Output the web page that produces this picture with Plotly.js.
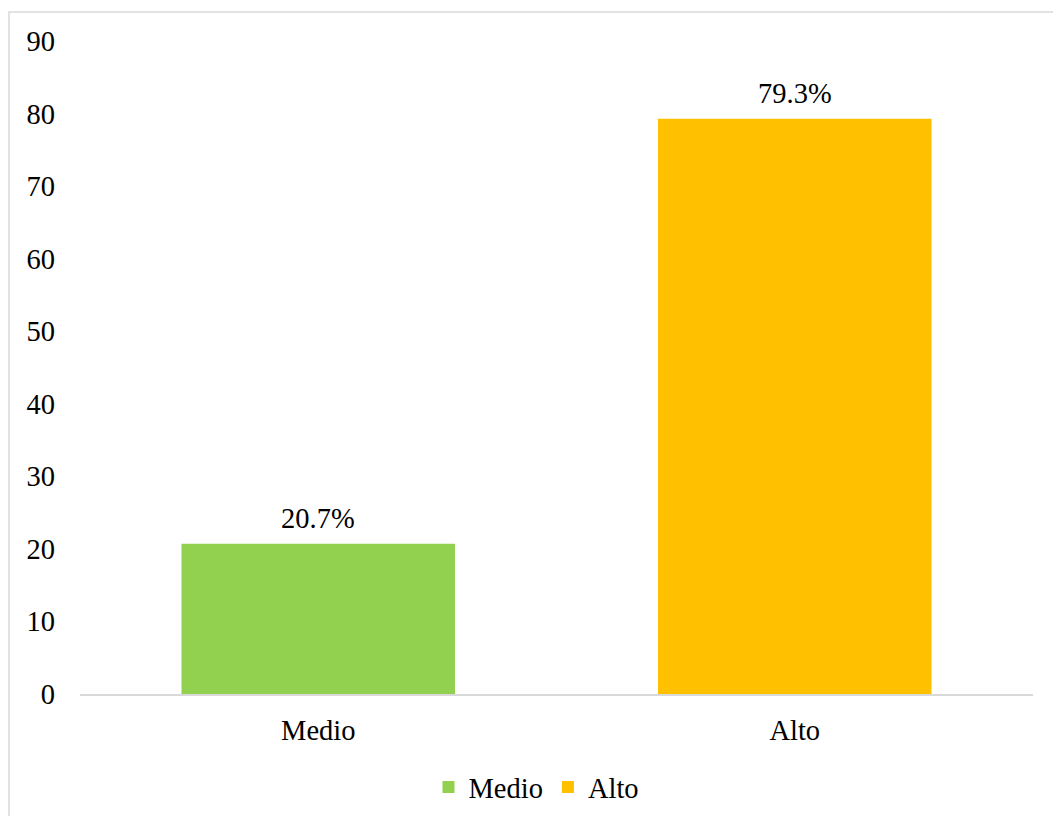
<!DOCTYPE html>
<html>
<head>
<meta charset="utf-8">
<script src="https://cdn.plot.ly/plotly-3.0.1.min.js"></script>
<style>
  html, body { margin: 0; padding: 0; background: #ffffff; }
  #chart { width: 1053px; height: 816px; }
</style>
</head>
<body>
<div id="chart"></div>
<script>
const categories = ["Medio", "Alto"];
const values = [20.7, 79.3];
const colors = ["#92D050", "#FFC000"];
const yTicks = [0, 10, 20, 30, 40, 50, 60, 70, 80, 90];

const fontFamily = "'Liberation Serif', 'Times New Roman', serif";
const fs = 28.5;

const traces = categories.map((c, i) => ({
  type: "bar",
  name: c,
  x: [c],
  y: [values[i]],
  width: 0.574,
  marker: { color: colors[i] },
  hoverinfo: "skip"
}));

const annotations = categories.map((c, i) => ({
  x: c,
  y: values[i],
  xref: "x",
  yref: "y",
  text: values[i].toFixed(1) + "%",
  showarrow: false,
  yanchor: "bottom",
  yshift: 8,
  font: { family: fontFamily, size: fs, color: "#000000" }
}));

const layout = {
  width: 1053,
  height: 816,
  margin: { l: 80, r: 20, t: 41, b: 122, autoexpand: false },
  paper_bgcolor: "#ffffff",
  plot_bgcolor: "#ffffff",
  font: { family: fontFamily, size: fs, color: "#000000" },
  barmode: "overlay",
  showlegend: true,
  legend: {
    orientation: "h",
    x: 0.479,
    xanchor: "center",
    yref: "container",
    y: 0.035,
    yanchor: "middle",
    font: { family: fontFamily, size: fs, color: "#000000" },
    itemwidth: 30,
    traceorder: "normal"
  },
  xaxis: {
    type: "category",
    categoryorder: "array",
    categoryarray: categories,
    showgrid: false,
    zeroline: false,
    showline: true,
    linecolor: "#d9d9d9",
    linewidth: 2,
    ticks: "",
    ticklabelstandoff: 10,
    tickfont: { family: fontFamily, size: fs, color: "#000000" },
    fixedrange: true
  },
  yaxis: {
    range: [0, 90],
    tickvals: yTicks,
    ticktext: yTicks.map(String),
    showgrid: false,
    zeroline: false,
    showline: false,
    ticks: "",
    ticklabelstandoff: 24,
    tickfont: { family: fontFamily, size: fs, color: "#000000" },
    fixedrange: true
  },
  annotations: annotations,
  shapes: [{
    type: "rect",
    xref: "paper", yref: "paper",
    x0: (9 - 80) / 953, x1: (1070 - 80) / 953,
    y0: (694 - 840) / 653, y1: (694 - 12) / 653,
    line: { color: "#d9d9d9", width: 1.5 },
    fillcolor: "rgba(0,0,0,0)",
    layer: "below"
  }]
};

Plotly.newPlot("chart", traces, layout, { displayModeBar: false, staticPlot: true });
</script>
</body>
</html>
